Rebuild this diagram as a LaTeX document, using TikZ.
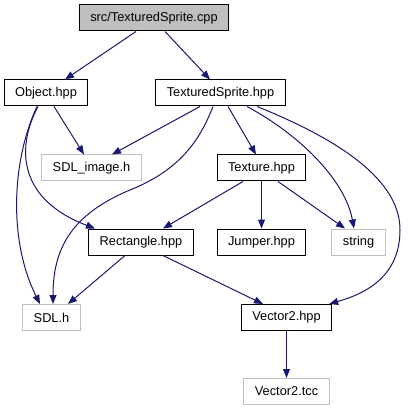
\documentclass[tikz,border=0pt]{standalone}
\usepackage{fontspec}
\setmainfont{Liberation Sans}
\usepackage{tikz}
\usetikzlibrary{arrows.meta}
\usepackage{xcolor}
\definecolor{edgeblue}{HTML}{191970}
\definecolor{extgrey}{HTML}{BFBFBF}

\begin{document}
\begin{tikzpicture}[x=1pt,y=-1pt,
  header/.style={draw=#1,line width=1pt,minimum height=26pt,inner xsep=11pt,
    font=\fontsize{12.8}{14}\selectfont},
  header/.default=black,
  dep/.style={draw=edgeblue,line width=1pt,-{Triangle[length=9pt,width=7pt]}},
]
  \useasboundingbox (0,0) rectangle (407,411);

  \node[header,fill=extgrey] (cpp) at (154,18) {src/TexturedSprite.cpp};
  \node[header] (obj) at (46,93) {Object.hpp};
  \node[header] (tshpp) at (220.5,93) {TexturedSprite.hpp};
  \node[header=extgrey] (sdlimg) at (91.5,168) {SDL\_image.h};
  \node[header] (texture) at (261.5,168) {Texture.hpp};
  \node[header] (rect) at (141,242) {Rectangle.hpp};
  \node[header] (jumper) at (261.5,242) {Jumper.hpp};
  \node[header=extgrey] (string) at (358.5,242) {string};
  \node[header=extgrey] (sdlh) at (51.5,317.5) {SDL.h};
  \node[header] (vec) at (286.5,317.5) {Vector2.hpp};
  \node[header=extgrey] (tcc) at (286.5,391.5) {Vector2.tcc};

  % Includes of the source file
  \draw[dep] ([xshift=-18pt]cpp.south) -- ([xshift=19pt]obj.north);
  \draw[dep] ([xshift=11pt]cpp.south) -- ([xshift=-10.5pt]tshpp.north);

  % Object.hpp
  \draw[dep] ([xshift=8pt]obj.south) -- ([xshift=-7.5pt]sdlimg.north);
  \draw[dep] ([xshift=-8pt]obj.south) .. controls (15,150) and (20,200) .. ([xshift=-46pt]rect.north);
  \draw[dep] ([xshift=-9pt]obj.south) .. controls (12,160) and (8,240) .. ([xshift=-11.5pt]sdlh.north);

  % TexturedSprite.hpp
  \draw[dep] ([xshift=-20.5pt]tshpp.south) -- ([xshift=20.5pt]sdlimg.north);
  \draw[dep] ([xshift=-7.5pt]tshpp.south) .. controls (200,140) and (180,170) .. (130,190)
    .. controls (70,215) and (53,250) .. ([xshift=1.5pt]sdlh.north);
  \draw[dep] ([xshift=7.5pt]tshpp.south) -- ([xshift=-5.5pt]texture.north);
  \draw[dep] ([xshift=26.5pt]tshpp.south) .. controls (300,135) and (345,180) .. ([xshift=-4.5pt]string.north);
  \draw[dep] ([xshift=36.5pt]tshpp.south) .. controls (340,140) and (400,180) .. (400,230)
    .. controls (400,280) and (360,295) .. ([xshift=-3pt]vec.north east);

  % Texture.hpp
  \draw[dep] ([xshift=-18.5pt]texture.south) -- ([xshift=22pt]rect.north);
  \draw[dep] (texture.south) -- (jumper.north);
  \draw[dep] ([xshift=16.5pt]texture.south) -- ([xshift=-13.5pt]string.north);

  % Rectangle.hpp and Vector2.hpp
  \draw[dep] ([xshift=-16pt]rect.south) -- ([xshift=16.5pt]sdlh.north);
  \draw[dep] ([xshift=22pt]rect.south) -- ([xshift=-23.5pt]vec.north);
  \draw[dep] (vec.south) -- (tcc.north);
\end{tikzpicture}
\end{document}
